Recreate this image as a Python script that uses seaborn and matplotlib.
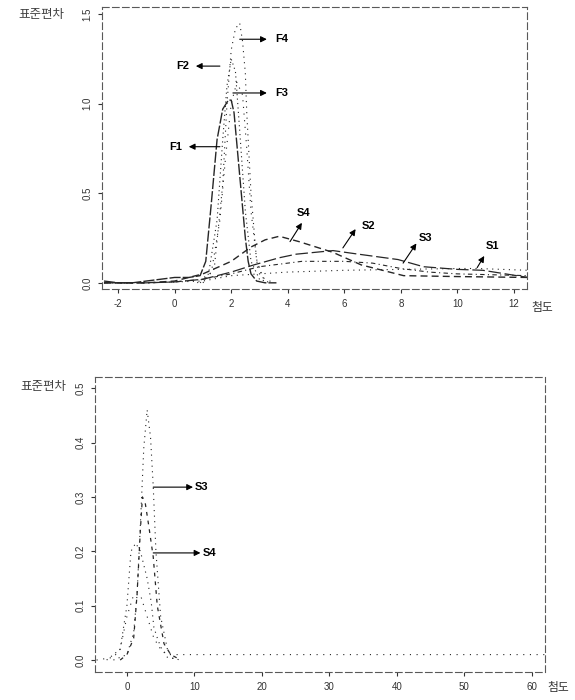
import matplotlib
matplotlib.use("Agg")
import matplotlib.pyplot as plt
import seaborn as sns

# top panel: kurtosis (x) vs standard deviation (y), F and S series
f1_x = [-2.5, -2.0, -1.5, -1.0, -0.5, 0.0, 0.5, 0.9, 1.1, 1.3, 1.5, 1.7, 1.9, 2.0, 2.1, 2.3, 2.5, 2.6, 2.7, 2.9, 3.2, 3.6]
f1_y = [0.01, 0.0, 0.0, 0.01, 0.02, 0.03, 0.03, 0.04, 0.12, 0.45, 0.80, 0.97, 1.02, 1.02, 0.95, 0.60, 0.25, 0.12, 0.05, 0.01, 0.0, 0.0]

f2_x = [0.8, 1.2, 1.5, 1.7, 1.85, 2.0, 2.15, 2.3, 2.5, 2.7, 3.0, 3.4]
f2_y = [0.0, 0.05, 0.35, 0.8, 1.1, 1.25, 1.18, 0.85, 0.40, 0.12, 0.02, 0.0]

f3_x = [0.9, 1.3, 1.6, 1.8, 2.0, 2.2, 2.4, 2.55, 2.7, 2.9, 3.1, 3.5]
f3_y = [0.0, 0.06, 0.35, 0.7, 1.0, 1.12, 1.05, 0.75, 0.40, 0.13, 0.03, 0.0]

f4_x = [1.0, 1.4, 1.7, 1.85, 2.0, 2.15, 2.3, 2.4, 2.5, 2.55, 2.6, 2.7, 2.9, 3.2]
f4_y = [0.0, 0.08, 0.55, 1.0, 1.3, 1.42, 1.45, 1.35, 1.17, 0.95, 0.8, 0.5, 0.12, 0.0]

s1_x = [-2.5, -1.0, 0.0, 1.0, 2.0, 3.0, 4.0, 6.0, 8.0, 10.0, 10.7, 12.5]
s1_y = [0.0, 0.0, 0.005, 0.01, 0.04, 0.05, 0.06, 0.07, 0.075, 0.08, 0.08, 0.07]

s2_x = [-2.5, -1.0, 0.0, 1.0, 2.0, 2.8, 3.7, 4.3, 5.6, 6.5, 7.9, 8.8, 10.0, 10.9, 12.5]
s2_y = [0.0, 0.0, 0.005, 0.02, 0.06, 0.10, 0.14, 0.16, 0.18, 0.16, 0.13, 0.09, 0.075, 0.07, 0.03]

s3_x = [-2.5, -1.0, 0.0, 1.0, 2.0, 3.0, 4.5, 6.0, 7.0, 8.0, 9.0, 10.0, 12.5]
s3_y = [0.0, 0.0, 0.005, 0.02, 0.05, 0.09, 0.12, 0.12, 0.11, 0.08, 0.06, 0.05, 0.04]

s4_x = [-2.5, -1.0, 0.0, 1.0, 2.0, 2.7, 3.2, 3.7, 4.4, 5.0, 5.6, 6.6, 8.1, 10.0, 12.5]
s4_y = [0.0, 0.0, 0.01, 0.05, 0.12, 0.20, 0.24, 0.26, 0.23, 0.20, 0.17, 0.10, 0.04, 0.035, 0.03]

# bottom panel: wider kurtosis range, S series only
b1_x = [-4.5, -2.0, -1.0, 0.0, 1.0, 2.0, 3.0, 4.0, 5.0, 6.0, 8.0, 15.0, 30.0, 45.0, 62.0]
b1_y = [0.0, 0.005, 0.02, 0.08, 0.12, 0.12, 0.08, 0.04, 0.02, 0.01, 0.01, 0.01, 0.01, 0.01, 0.01]

b2_x = [-3.0, -1.0, 0.0, 0.6, 1.3, 2.0, 3.0, 3.6, 4.0, 4.6, 5.1, 6.0, 8.0]
b2_y = [0.0, 0.02, 0.10, 0.20, 0.215, 0.20, 0.15, 0.107, 0.06, 0.037, 0.022, 0.005, 0.0]

b3_x = [-2.0, 0.0, 1.0, 1.5, 2.0, 2.5, 3.0, 3.5, 3.9, 4.3, 5.0, 6.0, 7.0]
b3_y = [0.0, 0.01, 0.05, 0.12, 0.25, 0.39, 0.46, 0.41, 0.32, 0.20, 0.08, 0.02, 0.0]

b4_x = [-1.0, 0.0, 1.0, 1.5, 2.0, 2.3, 2.7, 3.2, 3.9, 4.5, 5.5, 6.5, 8.0]
b4_y = [0.0, 0.01, 0.04, 0.12, 0.24, 0.30, 0.29, 0.25, 0.19, 0.10, 0.03, 0.01, 0.0]

top_xticks = [-2, 0, 2, 4, 6, 8, 10, 12]
top_yticks = [0.0, 0.5, 1.0, 1.5]
bot_xticks = [0, 10, 20, 30, 40, 50, 60]
bot_yticks = [0.0, 0.1, 0.2, 0.3, 0.4, 0.5]

sns.set_style("ticks")
plt.rcParams["font.family"] = ["Liberation Sans", "Noto Sans CJK KR"]
plt.rcParams["axes.unicode_minus"] = False

fig = plt.figure(figsize=(5.75, 7), dpi=100)
ax1 = fig.add_axes([0.1774, 0.587, 0.739, 0.403])
ax2 = fig.add_axes([0.165, 0.04, 0.783, 0.421])

INK = "0.15"

# top curves
sns.lineplot(x=f1_x, y=f1_y, ax=ax1, color=INK, lw=1.0, linestyle=(0, (8, 1.5)))
sns.lineplot(x=f2_x, y=f2_y, ax=ax1, color=INK, lw=0.8, linestyle=(0, (1, 3)))
sns.lineplot(x=f3_x, y=f3_y, ax=ax1, color=INK, lw=0.8, linestyle=(0, (1, 5)))
sns.lineplot(x=f4_x, y=f4_y, ax=ax1, color=INK, lw=0.8, linestyle=(0, (1, 4)))
sns.lineplot(x=s1_x, y=s1_y, ax=ax1, color=INK, lw=0.8, linestyle=(0, (1, 4)))
sns.lineplot(x=s2_x, y=s2_y, ax=ax1, color=INK, lw=0.9, linestyle=(0, (10, 3)))
sns.lineplot(x=s3_x, y=s3_y, ax=ax1, color=INK, lw=0.8, linestyle=(0, (4, 3, 1, 3)))
sns.lineplot(x=s4_x, y=s4_y, ax=ax1, color=INK, lw=1.0, linestyle=(0, (5, 3)))

# bottom curves
sns.lineplot(x=b1_x, y=b1_y, ax=ax2, color=INK, lw=0.8, linestyle=(0, (1, 5)))
sns.lineplot(x=b2_x, y=b2_y, ax=ax2, color=INK, lw=0.8, linestyle=(0, (1, 4)))
sns.lineplot(x=b3_x, y=b3_y, ax=ax2, color=INK, lw=0.8, linestyle=(0, (1, 4)))
sns.lineplot(x=b4_x, y=b4_y, ax=ax2, color=INK, lw=0.9, linestyle=(0, (3, 4)))

arrow = dict(arrowstyle="-|>", color="k", lw=0.8, mutation_scale=9, shrinkA=0, shrinkB=0)
lab = dict(fontsize=8, fontweight="bold", va="center", color="k")

# top annotations
ax1.annotate("", xy=(3.26, 1.36), xytext=(2.3, 1.36), arrowprops=arrow)
ax1.text(3.55, 1.36, "F4", ha="left", **lab)
ax1.annotate("", xy=(0.75, 1.21), xytext=(1.6, 1.21), arrowprops=arrow)
ax1.text(0.5, 1.21, "F2", ha="right", **lab)
ax1.annotate("", xy=(3.26, 1.06), xytext=(2.06, 1.06), arrowprops=arrow)
ax1.text(3.55, 1.06, "F3", ha="left", **lab)
ax1.annotate("", xy=(0.5, 0.76), xytext=(1.6, 0.76), arrowprops=arrow)
ax1.text(0.28, 0.76, "F1", ha="right", **lab)
ax1.annotate("", xy=(4.5, 0.335), xytext=(4.08, 0.23), arrowprops=arrow)
ax1.text(4.55, 0.39, "S4", ha="center", **lab)
ax1.annotate("", xy=(6.4, 0.30), xytext=(5.95, 0.195), arrowprops=arrow)
ax1.text(6.6, 0.32, "S2", ha="left", **lab)
ax1.annotate("", xy=(8.55, 0.22), xytext=(8.08, 0.11), arrowprops=arrow)
ax1.text(8.65, 0.25, "S3", ha="left", **lab)
ax1.annotate("", xy=(10.95, 0.15), xytext=(10.7, 0.085), arrowprops=arrow)
ax1.text(11.0, 0.205, "S1", ha="left", **lab)

# bottom annotations
ax2.annotate("", xy=(9.8, 0.318), xytext=(3.9, 0.318), arrowprops=arrow)
ax2.text(10.1, 0.318, "S3", ha="left", **lab)
ax2.annotate("", xy=(10.9, 0.197), xytext=(3.9, 0.197), arrowprops=arrow)
ax2.text(11.2, 0.197, "S4", ha="left", **lab)

for ax, xt, yt in [(ax1, top_xticks, top_yticks), (ax2, bot_xticks, bot_yticks)]:
    ax.set_xticks(xt)
    ax.set_yticks(yt)
    ax.set_yticklabels([f"{v:.1f}" for v in yt], rotation=90, va="center")
    ax.tick_params(length=3, width=0.8, labelsize=7, colors="0.2", pad=4)
    for s in ax.spines.values():
        s.set_visible(True)
        s.set_linestyle((0, (6, 3)))
        s.set_linewidth(0.8)
        s.set_color("0.35")
    ax.set_xlabel("")
    ax.set_ylabel("")

ax1.set_xlim(-2.57, 12.46)
ax1.set_ylim(-0.035, 1.54)
ax2.set_xlim(-4.75, 62)
ax2.set_ylim(-0.022, 0.52)

fig.text(0.032, 1 - 15 / 700, "표준편차", fontsize=9, va="center", ha="left", color="0.25")
fig.text(0.035, 1 - 387 / 700, "표준편차", fontsize=9, va="center", ha="left", color="0.25")
fig.text(0.925, 1 - 308 / 700, "첨도", fontsize=8.5, va="center", ha="left", color="0.2")
fig.text(0.952, 1 - 688 / 700, "첨도", fontsize=8.5, va="center", ha="left", color="0.2")

fig.savefig("out.png", dpi=100)
